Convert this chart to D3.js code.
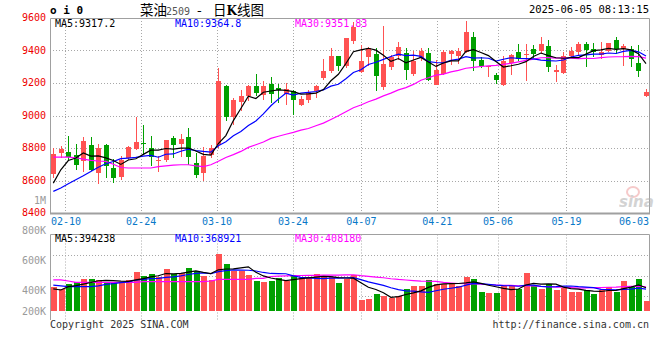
<!DOCTYPE html>
<html><head><meta charset="utf-8">
<script src="https://cdn.jsdelivr.net/npm/d3@7"></script>
<style>body{margin:0;background:#fff}svg{display:block}</style>
</head><body><svg id="c" width="660" height="360"></svg>
<script>
// ---------- data ----------
const dates = ["02-06","02-07","02-10","02-11","02-12","02-13","02-14","02-17","02-18","02-19","02-20","02-21",
"02-24","02-25","02-26","02-27","02-28","03-03","03-04","03-05","03-06","03-07","03-10","03-11","03-12","03-13","03-14",
"03-17","03-18","03-19","03-20","03-21","03-24","03-25","03-26","03-27","03-28","03-31","04-01","04-02","04-03",
"04-07","04-08","04-09","04-10","04-11","04-14","04-15","04-16","04-17","04-18","04-21","04-22","04-23","04-24","04-25",
"04-28","04-29","04-30","05-06","05-07","05-08","05-09","05-12","05-13","05-14","05-15","05-16","05-19","05-20","05-21",
"05-22","05-23","05-26","05-27","05-28","05-29","05-30","06-03","06-04"];
const open  = [8640,8767,8777,8759,8718,8820,8646,8820,8677,8619,8738,8796,8833,8800,8720,8724,8861,8824,8867,8707,
8646,8755,8816,9179,8988,9083,9117,9183,9128,9193,9169,9134,9148,9066,9097,9152,9230,9271,9364,9306,
9456,9267,9357,9380,9173,9296,9364,9384,9255,9353,9384,9189,9255,9380,9368,9390,9484,9343,9296,9251,
9185,9322,9390,9374,9411,9394,9429,9265,9261,9368,9388,9439,9411,9374,9394,9466,9411,9411,9322,9117];
const high  = [8800,8812,8871,8824,8865,8867,8824,8824,8734,8748,8810,8988,8939,8871,8748,8851,8876,8886,8923,8769,
8806,8816,9292,9189,9107,9158,9189,9257,9210,9234,9193,9200,9156,9117,9154,9189,9347,9415,9368,9480,
9575,9435,9419,9415,9552,9374,9452,9415,9398,9415,9415,9343,9404,9404,9415,9579,9511,9357,9306,9261,
9368,9378,9439,9439,9435,9482,9466,9312,9388,9421,9452,9452,9445,9452,9445,9482,9439,9425,9435,9165];
const low   = [8615,8740,8718,8662,8650,8660,8578,8615,8585,8605,8728,8790,8759,8691,8652,8712,8738,8742,8697,8615,
8599,8737,8800,8964,8943,9029,9087,9117,9097,9077,9076,9066,9005,9056,9076,9107,9220,9261,9271,9290,
9440,9261,9302,9148,9158,9281,9343,9220,9245,9333,9210,9189,9247,9312,9316,9384,9275,9292,9234,9193,
9179,9247,9333,9210,9353,9380,9267,9206,9257,9359,9374,9296,9363,9347,9390,9378,9306,9301,9234,9112];
const close = [8765,8796,8744,8697,8845,8667,8802,8687,8615,8724,8804,8839,8822,8744,8728,8851,8820,8855,8744,8636,
8748,8800,9210,8988,9097,9122,9179,9136,9183,9134,9159,9163,9097,9103,9144,9179,9275,9368,9302,9476,
9542,9333,9415,9245,9316,9357,9419,9282,9333,9394,9220,9282,9388,9398,9394,9511,9333,9302,9302,9216,
9337,9374,9349,9380,9378,9441,9296,9282,9364,9400,9441,9402,9388,9388,9445,9409,9429,9347,9271,9142];
// volume in thousands (K)
const volume = [422,407,440,456,473,473,467,451,451,451,467,520,493,507,489,540,507,513,547,527,
493,467,640,573,529,529,500,460,451,460,482,460,493,484,484,507,484,489,449,471,
500,333,340,373,360,349,360,407,427,427,467,440,440,440,429,489,473,387,380,380,
433,433,407,513,433,409,440,402,411,387,387,402,373,402,420,389,460,427,473,327];
const ma5Lead  = [8584,8666,8723,8738];
const ma10Lead = [8533,8554,8580,8605,8629,8656,8682,8703,8717];
const ma30Lead = [8744,8744,8744,8740,8732,8724,8720,8718,8700,8680,8677,8677,8677,8677,8685,8690,8695,8697,8697,8690,
8685,8697,8718,8742,8759,8779,8804,8820,8837];
const volMa5Lead  = [407,400,422,429];
const volMa10Lead = [433,427,422,422,422,422,427,438,442];
const volMa30Lead = [467,467,460,451,451,451,451,451,451,451,451,451,456,456,456,456,456,456,456,456,
456,460,471,471,471,471,471,478,478];
const priceTicks = [9600,9400,9200,9000,8800,8600,8400];
const volTicks = [1000,800,600,400,200];
const volTickLabels = ["1M","800K","600K","400K","200K"];
const axisDates = ["02-10","02-24","03-10","03-24","04-07","04-21","05-06","05-19","06-03"];
const priceMaLabels = ["MA5:9317.2","MA10:9364.8","MA30:9351.83"];
const volMaLabels = ["MA5:394238","MA10:368921","MA30:408180"];
const maColors = ["#000000","#0000ff","#ff00ff"];
const stamp = "2025-06-05 08:13:15";

// ---------- helpers ----------
function ma(arr, n, lead){ return arr.map((_,i)=> i < n-1 ? lead[i] : d3.mean(arr.slice(i-n+1,i+1))); }
const n = close.length;
const RED = "#ff5252", GREEN = "#00a000", GRID = "#a8a8a8", BORDER = "#a0a0a0";
const MONO = "'DejaVu Sans Mono', monospace";

const svg = d3.select("#c");
const L = 50, R = 649, T = 18, B = 213, VT = 234.5, VB = 311;
const x  = d3.scaleLinear().domain([0, n-1]).range([53.3, 646]);
const xg = d3.scaleLinear().domain([0, n-1]).range([50, 650]);
const y  = d3.scaleLinear().domain([8400, 9600]).range([B, T]);
const yv = d3.scaleLinear().domain([260, 800]).range([VB, 230]);

// ---------- grid ----------
const g = svg.append("g");
const gridIdx = axisDates.map(d => dates.indexOf(d));
gridIdx.slice(0, -1).forEach(i => {
  const gx = Math.round(xg(i)) + 0.5;
  g.append("line").attr("x1",gx).attr("x2",gx).attr("y1",T).attr("y2",B)
    .attr("stroke",GRID).attr("stroke-dasharray","1,2");
  g.append("line").attr("x1",gx).attr("x2",gx).attr("y1",VT).attr("y2",320)
    .attr("stroke",GRID).attr("stroke-dasharray","1,2");
});
priceTicks.slice(1,-1).forEach(p => {
  const gy = Math.round(y(p)) + 0.5;
  g.append("line").attr("x1",L).attr("x2",R).attr("y1",gy).attr("y2",gy)
    .attr("stroke",GRID).attr("stroke-dasharray","1,2");
});
[1,2,3].forEach(k => {
  const gy = Math.round(VT + k*20.5) + 0.5;
  g.append("line").attr("x1",L).attr("x2",R).attr("y1",gy).attr("y2",gy)
    .attr("stroke",GRID).attr("stroke-dasharray","1,2");
});
// borders
const bd = svg.append("g").attr("stroke",BORDER).attr("fill","none");
bd.append("path").attr("d",`M${L+0.5},${B} V${T+0.5} H${R+0.5} V${B}`);
bd.append("line").attr("x1",L).attr("x2",R+1).attr("y1",B+0.5).attr("y2",B+0.5).attr("stroke-width",2);
bd.append("path").attr("d",`M${L+0.5},320 V${VT} H${R+0.5} V${VB}`);

// ---------- candles ----------
const cg = svg.append("g").attr("shape-rendering","crispEdges");
d3.range(n).forEach(i => {
  const up = close[i] >= open[i];
  const col = up ? RED : GREEN;
  const cx = Math.round(x(i));
  cg.append("line").attr("x1",cx+0.5).attr("x2",cx+0.5).attr("y1",y(high[i])).attr("y2",y(low[i]))
    .attr("stroke",col);
  const top = y(Math.max(open[i],close[i])), bot = y(Math.min(open[i],close[i]));
  cg.append("rect").attr("x",cx-2).attr("width",5).attr("y",top).attr("height",Math.max(1,bot-top)).attr("fill",col);
  // volume
  cg.append("rect").attr("x",cx-2.5).attr("width",6).attr("y",yv(volume[i])).attr("height",VB - yv(volume[i]))
    .attr("fill",col);
});

// ---------- MA lines ----------
const priceMA = [ma(close,5,ma5Lead), ma(close,10,ma10Lead), ma(close,30,ma30Lead)];
const volMA = [ma(volume,5,volMa5Lead), ma(volume,10,volMa10Lead), ma(volume,30,volMa30Lead)];
const lineP = d3.line().x((d,i)=>x(i)).y(d=>y(d));
const lineV = d3.line().x((d,i)=>x(i)).y(d=>yv(d));
[2,1,0].forEach(k => {
  svg.append("path").datum(priceMA[k]).attr("d",lineP).attr("fill","none").attr("stroke",maColors[k]).attr("stroke-width",1.2);
  svg.append("path").datum(volMA[k]).attr("d",lineV).attr("fill","none").attr("stroke",maColors[k]).attr("stroke-width",1.2);
});

// ---------- text ----------
const t = svg.append("g").attr("font-family",MONO).attr("font-size",10);
priceTicks.forEach(p => t.append("text").attr("x",46).attr("y",y(p)+3).attr("text-anchor","end")
  .attr("fill","#ee0000").text(p));
volTicks.forEach((v,k) => t.append("text").attr("x",46).attr("y",Math.min(yv(v),VB)+3.5).attr("text-anchor","end")
  .attr("fill","#9a9a9a").text(volTickLabels[k]));
axisDates.forEach((d,k) => {
  const cx = Math.min(Math.max(xg(gridIdx[k]), 66), R - 15);
  t.append("text").attr("x",cx).attr("y",225).attr("text-anchor","middle").attr("fill","#0a78c8").text(d);
});
const maX = [55,175,295];
priceMaLabels.forEach((s,k)=> t.append("text").attr("x",maX[k]).attr("y",27).attr("fill",maColors[k]).text(s));
volMaLabels.forEach((s,k)=> t.append("text").attr("x",maX[k]).attr("y",242).attr("fill",maColors[k]).text(s));
t.append("text").attr("x",R).attr("y",13).attr("text-anchor","end").attr("font-size",10.5).attr("fill","#000").text(stamp);
t.append("text").attr("x",50).attr("y",14).attr("font-weight","bold").attr("font-size",11).attr("fill","#000").text("o i 0");
t.append("text").attr("x",50).attr("y",328).attr("fill","#333").text("Copyright 2025 SINA.COM");
t.append("text").attr("x",R).attr("y",328).attr("text-anchor","end").attr("fill","#333").text("http://finance.sina.com.cn");

// title
const CJK = "'Noto Sans CJK SC', sans-serif";
const title = svg.append("text").attr("y",15).attr("fill","#000").attr("font-family",CJK).attr("font-size",13.5);
title.append("tspan").attr("x",140).text("菜油");
title.append("tspan").attr("x",166).attr("font-family",MONO).attr("font-size",10).attr("fill","#555").text("2509");
title.append("tspan").attr("x",197).text("-");
title.append("tspan").attr("x",213).text("日");
title.append("tspan").attr("font-weight","bold").attr("font-family","'DejaVu Serif', serif").attr("font-size",12).text("K");
title.append("tspan").text("线图");

// watermark
const wm = svg.append("g").attr("opacity",0.55);
wm.append("ellipse").attr("cx",633).attr("cy",192).attr("rx",6).attr("ry",5).attr("fill","none").attr("stroke","#f0a0a0").attr("stroke-width",2);
wm.append("text").attr("x",619).attr("y",207).attr("font-family","'DejaVu Sans', sans-serif").attr("font-style","italic")
  .attr("font-weight","bold").attr("font-size",15).attr("fill","#b0b0b0").text("sina");
</script></body></html>
